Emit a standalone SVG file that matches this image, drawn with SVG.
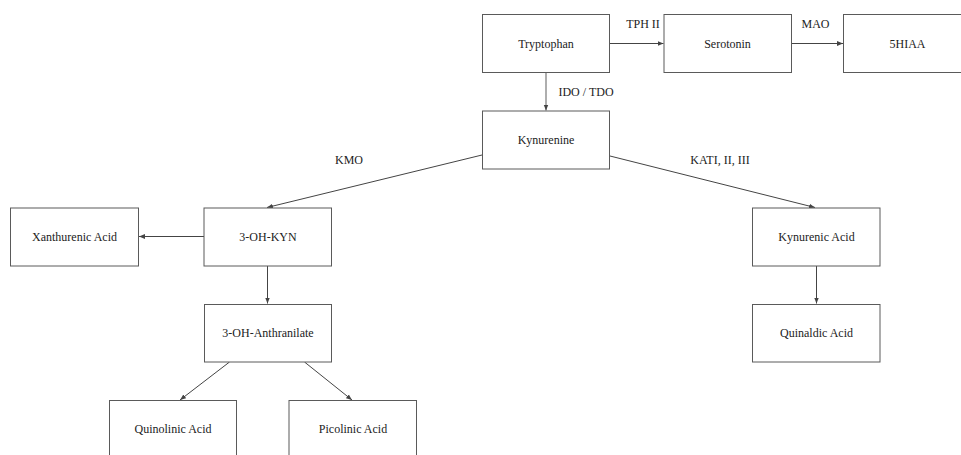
<svg xmlns="http://www.w3.org/2000/svg" width="961" height="455" viewBox="0 0 961 455">
  <style>
    .box { fill: #ffffff; stroke: #5a5a5a; stroke-width: 1; }
    .label { font-family: "Liberation Serif", "Times New Roman", serif; font-size: 12px; fill: #222222; text-anchor: middle; }
    .edge { fill: none; stroke: #444444; stroke-width: 1; marker-end: url(#arrow); }
    .edge-light { fill: none; stroke: #9a9a9a; stroke-width: 1.6; marker-end: url(#arrow-dark); }
  </style>
  <defs>
    <marker id="arrow" viewBox="0 0 6 6" refX="6" refY="3" markerWidth="6" markerHeight="6" markerUnits="userSpaceOnUse" orient="auto">
      <path d="M0,0.6 L6,3 L0,5.4 Z" fill="#444444"/>
    </marker>
    <marker id="arrow-dark" viewBox="0 0 6 6" refX="6" refY="3" markerWidth="6" markerHeight="6" markerUnits="userSpaceOnUse" orient="auto">
      <path d="M0,0.6 L6,3 L0,5.4 Z" fill="#444444"/>
    </marker>
  </defs>
  <rect width="961" height="455" fill="#ffffff"/>

  <g id="connectors">
    <line class="edge" x1="610" y1="43.5" x2="663.5" y2="43.5"/>
    <line class="edge" x1="792" y1="43.5" x2="843" y2="43.5"/>
    <line class="edge-light" x1="546" y1="72" x2="546" y2="110.5"/>
    <line class="edge" x1="482" y1="155" x2="267" y2="207.5"/>
    <line class="edge" x1="610" y1="156" x2="815" y2="207.5"/>
    <line class="edge" x1="204" y1="236.5" x2="139" y2="236.5"/>
    <line class="edge" x1="267.5" y1="266" x2="267.5" y2="303.5"/>
    <line class="edge" x1="816.5" y1="266" x2="816.5" y2="303.5"/>
    <line class="edge" x1="229.5" y1="362" x2="180" y2="400"/>
    <line class="edge" x1="304.5" y1="362" x2="352" y2="400"/>
    <text class="label" x="643" y="28">TPH II</text>
    <text class="label" x="815.5" y="28">MAO</text>
    <text class="label" x="586" y="96">IDO / TDO</text>
    <text class="label" x="349" y="164">KMO</text>
    <text class="label" x="720" y="164">KATI, II, III</text>
  </g>

  <g id="tryptophan">
    <rect class="box" x="482.5" y="14.5" width="127" height="58"/>
    <text class="label" x="546" y="47.5">Tryptophan</text>
  </g>
  <g id="serotonin">
    <rect class="box" x="664" y="14.5" width="127.5" height="58"/>
    <text class="label" x="727.5" y="47.5">Serotonin</text>
  </g>
  <g id="hiaa">
    <rect class="box" x="843.5" y="14.5" width="128" height="58"/>
    <text class="label" x="907.5" y="47.5">5HIAA</text>
  </g>
  <g id="kynurenine">
    <rect class="box" x="482.5" y="111" width="127" height="58"/>
    <text class="label" x="546" y="144">Kynurenine</text>
  </g>
  <g id="oh-kyn">
    <rect class="box" x="204" y="208" width="127.5" height="58"/>
    <text class="label" x="268" y="240.5">3-OH-KYN</text>
  </g>
  <g id="xanthurenic">
    <rect class="box" x="10.5" y="208" width="128" height="58"/>
    <text class="label" x="74.5" y="240.5">Xanthurenic Acid</text>
  </g>
  <g id="kynurenic">
    <rect class="box" x="752.5" y="208" width="127.5" height="58"/>
    <text class="label" x="816.5" y="240.5">Kynurenic Acid</text>
  </g>
  <g id="quinaldic">
    <rect class="box" x="752.5" y="304.5" width="127.5" height="57.5"/>
    <text class="label" x="816.5" y="337">Quinaldic Acid</text>
  </g>
  <g id="oh-anthranilate">
    <rect class="box" x="204.5" y="304.5" width="127" height="57.5"/>
    <text class="label" x="268" y="337">3-OH-Anthranilate</text>
  </g>
  <g id="quinolinic">
    <rect class="box" x="109.5" y="400.5" width="127" height="58"/>
    <text class="label" x="173" y="433">Quinolinic Acid</text>
  </g>
  <g id="picolinic">
    <rect class="box" x="289" y="400.5" width="127.5" height="58"/>
    <text class="label" x="353" y="433">Picolinic Acid</text>
  </g>
</svg>
